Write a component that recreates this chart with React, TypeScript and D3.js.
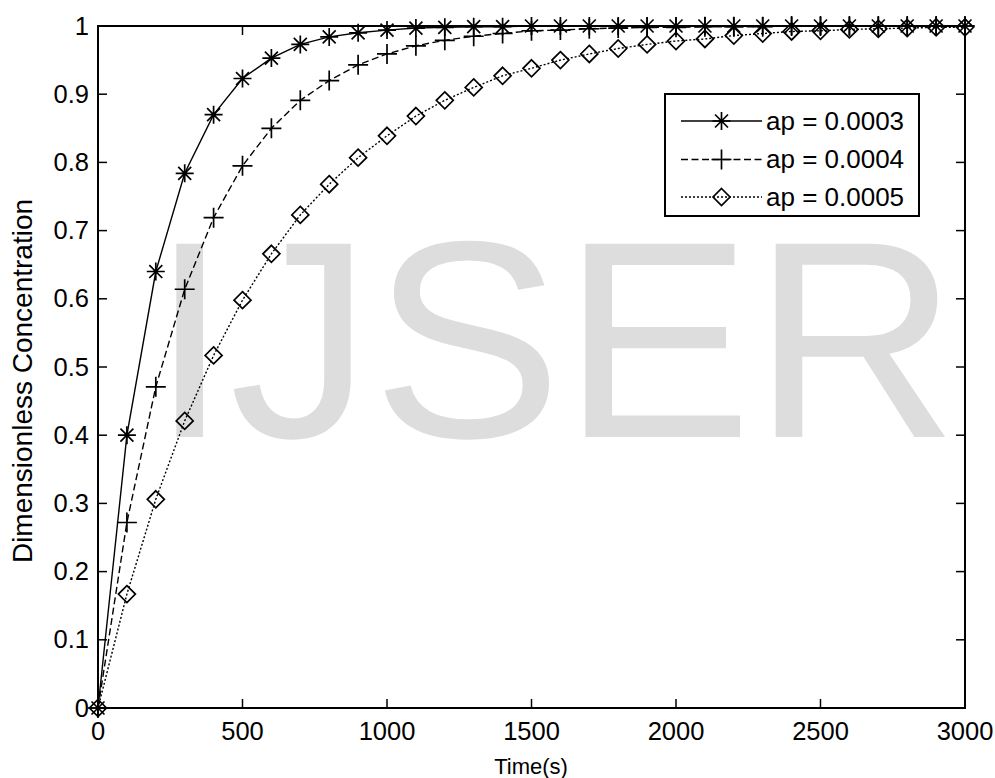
import React from "react";
import * as d3 from "d3";

const times = [0, 100, 200, 300, 400, 500, 600, 700, 800, 900, 1000, 1100, 1200, 1300, 1400, 1500, 1600, 1700, 1800, 1900, 2000, 2100, 2200, 2300, 2400, 2500, 2600, 2700, 2800, 2900, 3000];
const ap3 = [0, 0.400, 0.640, 0.784, 0.870, 0.923, 0.953, 0.973, 0.984, 0.990, 0.994, 0.997, 0.998, 0.999, 0.999, 1, 1, 1, 1, 1, 1, 1, 1, 1, 1, 1, 1, 1, 1, 1, 1];
const ap4 = [0, 0.272, 0.471, 0.614, 0.719, 0.795, 0.850, 0.891, 0.920, 0.943, 0.959, 0.971, 0.979, 0.985, 0.989, 0.993, 0.994, 0.996, 0.997, 0.998, 0.998, 0.999, 0.999, 0.999, 1, 1, 1, 1, 1, 1, 1];
const ap5 = [0, 0.167, 0.306, 0.421, 0.517, 0.598, 0.666, 0.723, 0.768, 0.807, 0.839, 0.868, 0.891, 0.910, 0.927, 0.938, 0.950, 0.959, 0.967, 0.973, 0.978, 0.981, 0.986, 0.989, 0.992, 0.993, 0.995, 0.996, 0.997, 0.998, 0.998];
const seriesNames = ["ap = 0.0003", "ap = 0.0004", "ap = 0.0005"];
const xTicks = [0, 500, 1000, 1500, 2000, 2500, 3000];
const yTicks = [0, 0.1, 0.2, 0.3, 0.4, 0.5, 0.6, 0.7, 0.8, 0.9, 1];

const W = 995, H = 778;
const L = 98, R = 965, T = 26, B = 708;
const FONT = "'Liberation Sans', Arial, sans-serif";

function markerPath(kind: string, r: number) {
  if (kind === "star") {
    const d = r * 0.72;
    return `M${-r},0H${r}M0,${-r}V${r}M${-d},${-d}L${d},${d}M${-d},${d}L${d},${-d}`;
  }
  if (kind === "plus") return `M${-r},0H${r}M0,${-r}V${r}`;
  return `M0,${-r}L${r},0L0,${r}L${-r},0Z`;
}

export default function App() {
  const x = d3.scaleLinear().domain([0, 3000]).range([L, R]);
  const y = d3.scaleLinear().domain([0, 1]).range([B, T]);
  const line = d3.line<number>().x((_, i) => x(times[i])).y((v) => y(v));
  const series = [
    { vals: ap3, dash: "none", marker: "star", r: 9 },
    { vals: ap4, dash: "7,3.5", marker: "plus", r: 10 },
    { vals: ap5, dash: "2,2", marker: "diamond", r: 8.5 },
  ];
  const tl = 9;
  const legRows = [121, 159.5, 197];
  return (
    <svg width={W} height={H} style={{ position: "fixed", left: 0, top: 0, background: "#fff" }} fontFamily={FONT}>
      <rect x={0} y={0} width={W} height={H} fill="#fff" />
      <text transform="translate(150,437) scale(1.015,1)" fontSize={281} fill="#dddddd">IJSER</text>
      {series.map((s, k) => (
        <g key={k}>
          <path d={line(s.vals) || ""} fill="none" stroke="#000" strokeWidth={1.4} strokeDasharray={s.dash} />
          {s.vals.map((v, i) => (
            <path key={i} d={markerPath(s.marker, s.r)} transform={`translate(${x(times[i])},${y(v)})`} fill="none" stroke="#000" strokeWidth={1.7} />
          ))}
        </g>
      ))}
      <rect x={L} y={T} width={R - L} height={B - T} fill="none" stroke="#000" strokeWidth={2} />
      {xTicks.map((t) => (
        <g key={"x" + t}>
          <line x1={x(t)} x2={x(t)} y1={B} y2={B - tl} stroke="#000" strokeWidth={1.5} />
          <line x1={x(t)} x2={x(t)} y1={T} y2={T + tl} stroke="#000" strokeWidth={1.5} />
          <text x={x(t)} y={740} fontSize={25.5} textAnchor="middle">{t}</text>
        </g>
      ))}
      {yTicks.map((t) => (
        <g key={"y" + t}>
          <line x1={L} x2={L + tl} y1={y(t)} y2={y(t)} stroke="#000" strokeWidth={1.5} />
          <line x1={R} x2={R - tl} y1={y(t)} y2={y(t)} stroke="#000" strokeWidth={1.5} />
          <text x={89} y={y(t) + 8.5} fontSize={25.5} textAnchor="end">{String(t)}</text>
        </g>
      ))}
      <text x={531} y={774} fontSize={22} textAnchor="middle">Time(s)</text>
      <text transform={`translate(32,381) rotate(-90)`} fontSize={28} textAnchor="middle">Dimensionless Concentration</text>
      <rect x={665} y={94} width={254} height={122} fill="#fff" stroke="#000" strokeWidth={2} />
      {series.map((s, k) => (
        <g key={"l" + k}>
          <line x1={681} x2={762} y1={legRows[k]} y2={legRows[k]} stroke="#000" strokeWidth={1.4} strokeDasharray={s.dash} />
          <path d={markerPath(s.marker, s.r)} transform={`translate(721.5,${legRows[k]})`} fill="none" stroke="#000" strokeWidth={1.7} />
          <text x={766} y={legRows[k] + 8.5} fontSize={26}>{seriesNames[k]}</text>
        </g>
      ))}
    </svg>
  );
}
